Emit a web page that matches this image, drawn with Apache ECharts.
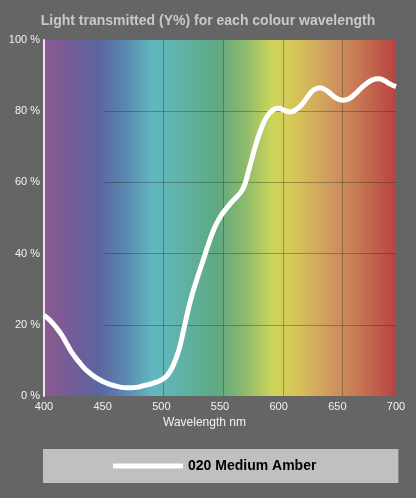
<!DOCTYPE html>
<html>
<head>
<meta charset="utf-8">
<script src="https://cdn.jsdelivr.net/npm/echarts@6/dist/echarts.min.js"></script>
<style>
  html, body { margin: 0; padding: 0; background: #656565; }
  #chart { width: 416px; height: 498px; }
</style>
</head>
<body>
<div id="chart"></div>
<script>
// wavelength (nm) and transmitted light (%)
const wavelengths = [400, 405, 410, 415, 420, 425, 430, 435, 440, 445, 450, 455, 460, 465, 470, 475,
  480, 485, 490, 495, 500, 505, 510, 515, 520, 525, 530, 535, 540, 545, 550, 555, 560, 565, 570,
  575, 580, 585, 590, 595, 600, 605, 610, 615, 620, 625, 630, 635, 640, 645, 650, 655, 660, 665,
  670, 675, 680, 685, 690, 695, 700];
const transmission = [22.7, 21.3, 19.4, 17.2, 14.3, 11.6, 9.5, 7.6, 6.2, 5.0, 4.1, 3.4, 2.9, 2.5, 2.3, 2.3,
  2.5, 2.9, 3.3, 3.8, 4.5, 5.8, 8.5, 13.0, 20.0, 27.0, 32.5, 37.5, 42.5, 47.0, 50.2, 52.5, 54.5, 56.2, 58.5,
  64.0, 70.0, 75.0, 78.5, 80.3, 80.8, 80.2, 79.8, 80.5, 82.0, 84.2, 86.0, 86.6, 86.0, 84.7, 83.5, 83.1, 83.5, 84.8,
  86.4, 87.8, 88.8, 89.1, 88.6, 87.6, 86.9];
const seriesName = '020 Medium Amber';

const chart = echarts.init(document.getElementById('chart'));

// spectrum behind the plot
const spectrum = {
  type: 'linear', x: 0, y: 0, x2: 1, y2: 0,
  colorStops: [
    { offset: 0, color: '#8a5a90' },
    { offset: 0.07, color: '#765c96' },
    { offset: 0.155, color: '#5b65a0' },
    { offset: 0.23, color: '#5a88b0' },
    { offset: 0.31, color: '#62b8c0' },
    { offset: 0.39, color: '#60b2a8' },
    { offset: 0.49, color: '#5ea882' },
    { offset: 0.57, color: '#8cba6c' },
    { offset: 0.65, color: '#cdd55a' },
    { offset: 0.72, color: '#d6c258' },
    { offset: 0.80, color: '#d0a060' },
    { offset: 0.90, color: '#c67452' },
    { offset: 1, color: '#b84242' }
  ]
};

const gridColor = 'rgba(20, 30, 20, 0.32)';

const option = {
  backgroundColor: '#656565',
  animation: false,
  title: {
    text: 'Light transmitted (Y%) for each colour wavelength',
    left: 'center',
    top: 9,
    textStyle: { color: '#c9c9c9', fontSize: 14, fontWeight: 'bold', fontFamily: 'Liberation Sans' }
  },
  legend: {
    left: 43,
    top: 449,
    backgroundColor: '#c0c0c0',
    padding: [10, 82, 10, 70],
    icon: 'rect',
    itemWidth: 70,
    itemHeight: 5,
    textStyle: { color: '#000', fontSize: 14, fontWeight: 'bold', fontFamily: 'Liberation Sans' },
    data: [seriesName]
  },
  grid: [
    { left: 44, right: 20, top: 40, bottom: 102, show: true, borderWidth: 0, backgroundColor: spectrum },
    // overlay grid for the dark grid lines (they start at the 450 line)
    { left: 104, right: 20, top: 40, bottom: 102 }
  ],
  xAxis: [
    {
      type: 'value', gridIndex: 0, min: 400, max: 700, interval: 50,
      name: 'Wavelength nm', nameLocation: 'middle', nameGap: 21,
      nameTextStyle: { color: '#f2f2f2', fontSize: 12, fontFamily: 'Liberation Sans', padding: [0, 31, 0, 0] },
      axisLine: { show: false },
      axisTick: { show: false },
      splitLine: { show: false },
      axisLabel: { color: '#f2f2f2', fontSize: 11, fontFamily: 'Liberation Sans', margin: 5 }
    },
    {
      type: 'value', gridIndex: 1, min: 450, max: 695, interval: 50,
      axisLine: { show: false }, axisTick: { show: false }, axisLabel: { show: false },
      splitLine: { show: true, showMinLine: false, showMaxLine: false, lineStyle: { color: gridColor, width: 1 } }
    }
  ],
  yAxis: [
    {
      type: 'value', gridIndex: 0, min: 0, max: 100, interval: 20,
      axisLine: { show: true, lineStyle: { color: 'rgba(255, 240, 255, 0.9)', width: 2 } },
      axisTick: { show: false },
      splitLine: { show: false },
      axisLabel: { color: '#f2f2f2', fontSize: 11, fontFamily: 'Liberation Sans', margin: 4, formatter: '{value} %' }
    },
    {
      type: 'value', gridIndex: 1, min: 0, max: 100, interval: 20,
      axisLine: { show: false }, axisTick: { show: false }, axisLabel: { show: false },
      splitLine: { show: true, showMinLine: false, showMaxLine: false, lineStyle: { color: gridColor, width: 1 } }
    }
  ],
  series: [
    {
      name: seriesName,
      type: 'line',
      xAxisIndex: 0,
      yAxisIndex: 0,
      smooth: true,
      showSymbol: false,
      color: '#ffffff',
      lineStyle: { color: '#ffffff', width: 5 },
      z: 5,
      data: wavelengths.map((w, i) => [w, transmission[i]])
    }
  ]
};

chart.setOption(option);
</script>
</body>
</html>
